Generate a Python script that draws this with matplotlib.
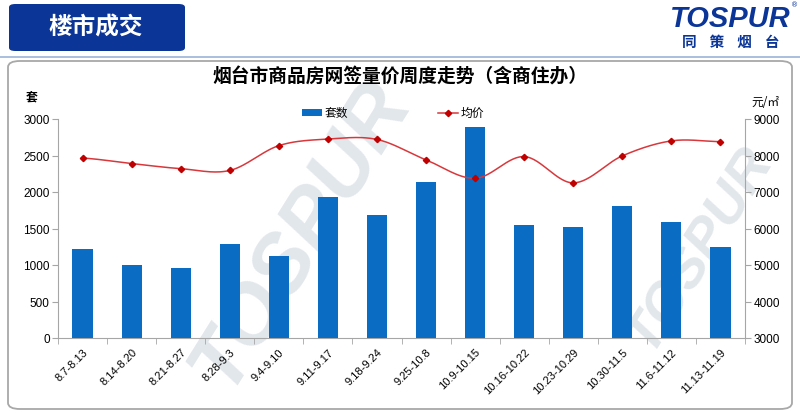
import numpy as np
import matplotlib
matplotlib.use("Agg")
import matplotlib.pyplot as plt
from matplotlib.patches import FancyBboxPatch, Rectangle
from matplotlib.lines import Line2D

plt.rcParams['font.family'] = ['Noto Sans CJK SC', 'DejaVu Sans']

weeks = ["8.7-8.13", "8.14-8.20", "8.21-8.27", "8.28-9.3", "9.4-9.10", "9.11-9.17",
         "9.18-9.24", "9.25-10.8", "10.9-10.15", "10.16-10.22", "10.23-10.29",
         "10.30-11.5", "11.6-11.12", "11.13-11.19"]
units = [1225, 1000, 960, 1285, 1130, 1930, 1685, 2140, 2890, 1550, 1520, 1810, 1590, 1240]
avg_price = [7930, 7780, 7640, 7590, 8270, 8450, 8440, 7880, 7375, 7970, 7250, 7990, 8400, 8380]

left_ticks = [0, 500, 1000, 1500, 2000, 2500, 3000]
right_ticks = [3000, 4000, 5000, 6000, 7000, 8000, 9000]

BAR = '#0A6CC2'
LINE = '#D8383C'
MARK = '#C00000'
AXIS = '#A6A6A6'
NAVY = '#0B3596'


def catmull_rom(xs, ys, steps=30):
    """Smooth curve through the points (Catmull-Rom, like an office smoothed line)."""
    xs = np.asarray(xs, float)
    ys = np.asarray(ys, float)
    px = np.concatenate([[2 * xs[0] - xs[1]], xs, [2 * xs[-1] - xs[-2]]])
    py = np.concatenate([[ys[0]], ys, [ys[-1]]])
    out_x, out_y = [], []
    for i in range(1, len(px) - 2):
        t = np.linspace(0, 1, steps, endpoint=False)
        for arr, p in ((out_x, px), (out_y, py)):
            p0, p1, p2, p3 = p[i - 1], p[i], p[i + 1], p[i + 2]
            arr.extend(0.5 * ((2 * p1) + (-p0 + p2) * t +
                              (2 * p0 - 5 * p1 + 4 * p2 - p3) * t ** 2 +
                              (-p0 + 3 * p1 - 3 * p2 + p3) * t ** 3))
    out_x.append(xs[-1])
    out_y.append(ys[-1])
    return np.array(out_x), np.array(out_y)


fig = plt.figure(figsize=(8, 4.14), dpi=100)
W, H = 800, 414


def fx(px):
    return px / W


def fy(py):
    return 1 - py / H


# faint watermarks, kept underneath everything else
for (x, y, s, r) in [(300, 235, 60, 58), (700, 250, 40, 58)]:
    fig.text(fx(x), fy(y), "TOSPUR", fontsize=s, fontweight='bold', style='italic',
             family='Liberation Sans', color='#E2E7EC', rotation=r,
             ha='center', va='center', zorder=-5)

# page decorations: section header, divider, logo
fig.patches.append(FancyBboxPatch((fx(9), fy(52)), fx(176), 47 / H,
                                  boxstyle="round,pad=0,rounding_size=0.008",
                                  transform=fig.transFigure, facecolor=NAVY,
                                  edgecolor='none', zorder=1))
fig.text(fx(96), fy(28), "楼市成交", color='white', fontsize=17, fontweight='bold',
         ha='center', va='center', zorder=2)
fig.add_artist(Line2D([0, 1], [fy(58), fy(58)], color='#9DB3D8', lw=1.2,
                      transform=fig.transFigure))
fig.text(fx(730), fy(19), "TOSPUR", color=NAVY, fontsize=21, fontweight='bold',
         style='italic', family='Liberation Sans', ha='center', va='center')
fig.text(fx(795), fy(5), "®", color=NAVY, fontsize=5, ha='center', va='center',
         family='DejaVu Sans')
fig.text(fx(731), fy(42), "同    策    烟    台", color=NAVY, fontsize=10.5,
         fontweight='bold', style='italic', ha='center', va='center')

# chart frame
fig.patches.append(FancyBboxPatch((fx(8), fy(410)), fx(784), 348 / H,
                                  boxstyle="round,pad=0,rounding_size=0.015",
                                  transform=fig.transFigure, facecolor='none',
                                  edgecolor='#A8A8A8', lw=1.3, zorder=1))

ax = fig.add_axes([fx(58), fy(339), 687 / W, 219 / H])
ax.set_zorder(2)
ax.set_facecolor('none')
x = np.arange(len(weeks))
ax.bar(x, units, width=0.41, color=BAR, zorder=3, label="套数")
ax.set_xlim(-0.5, len(weeks) - 0.5)
ax.set_ylim(0, 3000)
ax.set_yticks(left_ticks)
ax.set_xticks(x)
ax.set_xticklabels(weeks, rotation=45, ha='right', va='top', rotation_mode='anchor',
                   fontsize=8, family=['Liberation Sans', 'DejaVu Sans'])
ax.set_xticks(np.arange(-0.5, len(weeks)), minor=True)
ax.tick_params(axis='x', which='major', length=0, pad=6)
ax.tick_params(axis='x', which='minor', length=4, color=AXIS, direction='out')
ax.tick_params(axis='y', length=4, color=AXIS, labelsize=8.5, pad=2)
for lab in ax.get_yticklabels():
    lab.set_family(['Liberation Sans', 'DejaVu Sans'])
for sp in ['top', 'right']:
    ax.spines[sp].set_visible(False)
for sp in ['left', 'bottom']:
    ax.spines[sp].set_color(AXIS)

ax2 = ax.twinx()
ax2.set_zorder(3)
sx, sy = catmull_rom(x, avg_price)
ax2.plot(sx, sy, color=LINE, lw=1.1, zorder=4)
ax2.plot(x, avg_price, linestyle='none', marker='D', markersize=3.2,
         color=MARK, zorder=5)
ax2.set_ylim(3000, 9000)
ax2.set_yticks(right_ticks)
ax2.tick_params(axis='y', length=4, color=AXIS, labelsize=8.5, pad=2)
for lab in ax2.get_yticklabels():
    lab.set_family(['Liberation Sans', 'DejaVu Sans'])
for sp in ['top', 'left', 'bottom']:
    ax2.spines[sp].set_visible(False)
ax2.spines['right'].set_color(AXIS)

# title, units, legend
fig.text(fx(400), fy(77), "烟台市商品房网签量价周度走势（含商住办）", fontsize=13.5,
         fontweight='bold', ha='center', va='center')
fig.text(fx(32), fy(97), "套", fontsize=8.5, fontweight='bold', ha='center', va='center')
fig.text(fx(765), fy(102), "元/㎡", fontsize=8.5, ha='center', va='center',
         family=['Noto Sans CJK SC', 'DejaVu Sans'])

fig.patches.append(Rectangle((fx(302), fy(117)), fx(20), 7 / H, transform=fig.transFigure,
                             facecolor=BAR, edgecolor='none'))
fig.text(fx(325), fy(113.5), "套数", fontsize=8.5, ha='left', va='center')
fig.add_artist(Line2D([fx(438), fx(458)], [fy(113.5), fy(113.5)], color=LINE, lw=1.1,
                      transform=fig.transFigure))
fig.add_artist(Line2D([fx(448)], [fy(113.5)], marker='D', markersize=3.2, color=MARK,
                      transform=fig.transFigure))
fig.text(fx(461), fy(113.5), "均价", fontsize=8.5, ha='left', va='center')

fig.savefig("out.png", dpi=100)
